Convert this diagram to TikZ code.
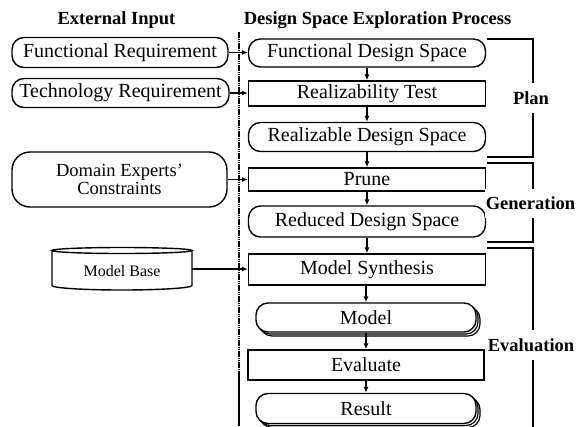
\documentclass[tikz,border=0pt]{standalone}
\usepackage{fontspec}
\setmainfont{Liberation Serif}
\usetikzlibrary{shadows,arrows.meta}
\begin{document}
\begin{tikzpicture}[x=1pt,y=-1pt,
  every node/.style={inner sep=0pt, font=\fontsize{20}{22}\selectfont},
  rbox/.style={draw, line width=1.4pt, rounded corners=12pt, minimum width=237pt, minimum height=29pt, fill=white},
  sbox/.style={draw, line width=1.4pt, minimum width=237pt, minimum height=27pt, fill=white},
  stackbox/.style={rbox, minimum width=220pt, double copy shadow={shadow xshift=2pt, shadow yshift=-2pt, fill=white, draw=black, line width=1.2pt}},
  title/.style={font=\bfseries\fontsize{18.5}{20}\selectfont},
  phase/.style={font=\bfseries\fontsize{18.5}{20}\selectfont, fill=white, inner ysep=8pt, inner xsep=1pt},
  arr/.style={line width=1.3pt, -{Latex[length=6pt,width=5pt]}},
  brk/.style={line width=1.4pt},
  cyl/.style={line width=1.4pt},
]
\useasboundingbox (0,0) rectangle (576,426);

% titles
\node[title, anchor=base] (t1) at (116.5,24) {External Input};
\node[title, anchor=base] (t2) at (377.5,24) {Design Space Exploration Process};

% separator
\coordinate (d1) at (239,32);
\coordinate (d2) at (239,372);
\coordinate (d3) at (239,426);
\draw[line width=2.4pt, dash pattern=on 1.5pt off 0.7pt] (d1) -- (d2);
\draw[line width=1.5pt] (d2) -- (d3);

% external inputs
\node[rbox, minimum width=216pt, minimum height=30pt] (fr) at (120,52.5) {Functional Requirement};
\node[rbox, minimum width=217pt, minimum height=29pt] (tr) at (120.5,93) {Technology Requirement};
\node[rbox, rounded corners=18pt, minimum width=215pt, minimum height=55pt, align=center,
      font=\fontsize{18.5}{18.5}\selectfont] (de) at (119.5,179.5) {Domain Experts'\\Constraints};

% model base cylinder
\node[minimum width=140pt, minimum height=42pt] (mb) at (122,269) {};
\draw[cyl, fill=white] (52,250.5) -- (52,285.5) arc[start angle=180, end angle=0, x radius=70, y radius=4.5] -- (192,250.5);
\draw[cyl] (122,250.5) ellipse [x radius=70, y radius=3];
\node[font=\fontsize{16}{18}\selectfont] (mbt) at (122,271.5) {Model Base};

% process column
\node[rbox, minimum height=28pt] (fds) at (367,53) {Functional Design Space};
\node[sbox, minimum height=25pt] (rt) at (367,93.5) {Realizability Test};
\node[rbox, minimum height=29pt] (rds) at (367,137) {Realizable Design Space};
\node[sbox, minimum height=23pt] (pr) at (367,179.5) {Prune};
\node[rbox, minimum height=31pt] (reds) at (367,221.5) {Reduced Design Space};
\node[sbox, minimum height=31pt] (ms) at (367,269.5) {Model Synthesis};
\node[stackbox, minimum height=29pt] (mo) at (366,317.5) {Model};
\node[sbox, minimum width=236pt, minimum height=30pt] (ev) at (366,365) {Evaluate};
\node[stackbox, minimum height=30pt] (re) at (366,408.5) {Result};

% vertical arrows
\draw[arr] (fds.south) -- (fds.south |- rt.north);
\draw[arr] (rt.south) -- (rt.south |- rds.north);
\draw[arr] (rds.south) -- (rds.south |- pr.north);
\draw[arr] (pr.south) -- (pr.south |- reds.north);
\draw[arr] (reds.south) -- (reds.south |- ms.north);
\draw[arr] (mo.north |- ms.south) -- (mo.north);
\draw[arr] (mo.south) -- (mo.south |- ev.north);
\draw[arr] (ev.south) -- (ev.south |- re.north);

% horizontal arrows
\draw[arr] (fr.east) -- (fr.east -| fds.west);
\draw[arr] (tr.east) -- (tr.east -| rt.west);
\draw[arr] (de.east) -- (de.east -| pr.west);
\draw[arr] (mb.east) -- (mb.east -| ms.west);

% phase brackets
\draw[brk] (487,39) -- (533,39) -- (533,157) -- (487,157);
\draw[brk] (487,163) -- (533,163) -- (533,242) -- (487,242);
\draw[brk] (487,248) -- (533,248) -- (533,428);
\node[phase] (plan) at (531,98) {Plan};
\node[phase] (gen) at (530.5,203.5) {Generation};
\node[phase] (eval) at (531,345) {Evaluation};
\end{tikzpicture}
\end{document}
